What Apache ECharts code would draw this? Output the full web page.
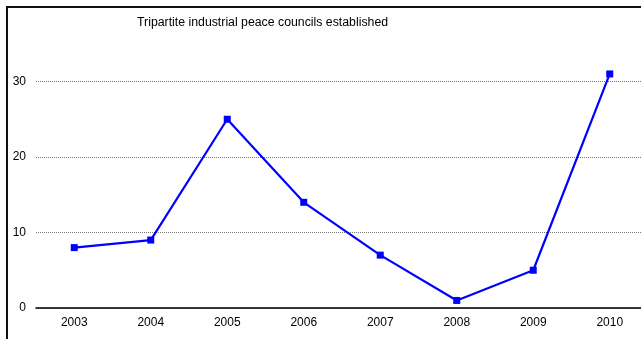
<!DOCTYPE html>
<html>
<head>
<meta charset="utf-8">
<script src="https://cdn.jsdelivr.net/npm/echarts@6/dist/echarts.min.js"></script>
<style>
  html, body { margin: 0; padding: 0; background: #fff; }
  #chart { width: 641px; height: 339px; }
</style>
</head>
<body>
<div id="chart"></div>
<script>
// data
var years = ['2003', '2004', '2005', '2006', '2007', '2008', '2009', '2010'];
var councils = [8, 9, 25, 14, 7, 1, 5, 31];
var yTicks = [0, 10, 20, 30];

var myChart = echarts.init(document.getElementById('chart'));

myChart.setOption({
    animation: false,
    textStyle: { fontFamily: 'Liberation Sans, Arial, sans-serif' },
    title: {
        text: 'Tripartite industrial peace councils established',
        left: 132,
        top: 12,
        textStyle: { fontSize: 12.3, fontWeight: 'normal', color: '#000' }
    },
    // outer frame of the picture
    graphic: [{
        type: 'rect',
        shape: { x: 7, y: 7, width: 660, height: 360 },
        style: { fill: null, stroke: '#111', lineWidth: 2 },
        z: 100
    }],
    // plot runs past the right edge of the picture
    grid: {
        left: 36,
        width: 612,
        top: 6,
        bottom: 31,
        outerBoundsMode: 'none'
    },
    xAxis: {
        type: 'category',
        data: years,
        boundaryGap: true,
        axisLine: { lineStyle: { color: '#000', width: 1.5 } },
        axisTick: { alignWithLabel: false, length: 4, lineStyle: { color: '#000' } },
        axisLabel: { color: '#000', fontSize: 12, margin: 9 }
    },
    yAxis: {
        type: 'value',
        min: 0,
        max: 40,
        interval: 10,
        axisLine: { show: false },
        axisTick: { show: false },
        axisLabel: {
            color: '#000',
            fontSize: 12,
            margin: 10,
            formatter: function (v) {
                return yTicks.indexOf(v) >= 0 ? String(v) : '';
            }
        },
        splitLine: {
            show: true,
            lineStyle: { color: '#777', type: [1, 1], width: 1 }
        }
    },
    series: [{
        name: 'Tripartite industrial peace councils established',
        type: 'line',
        data: councils,
        symbol: 'rect',
        symbolSize: 7,
        itemStyle: { color: '#0000ff' },
        lineStyle: { color: '#0000ff', width: 2.2 }
    }]
});
</script>
</body>
</html>
